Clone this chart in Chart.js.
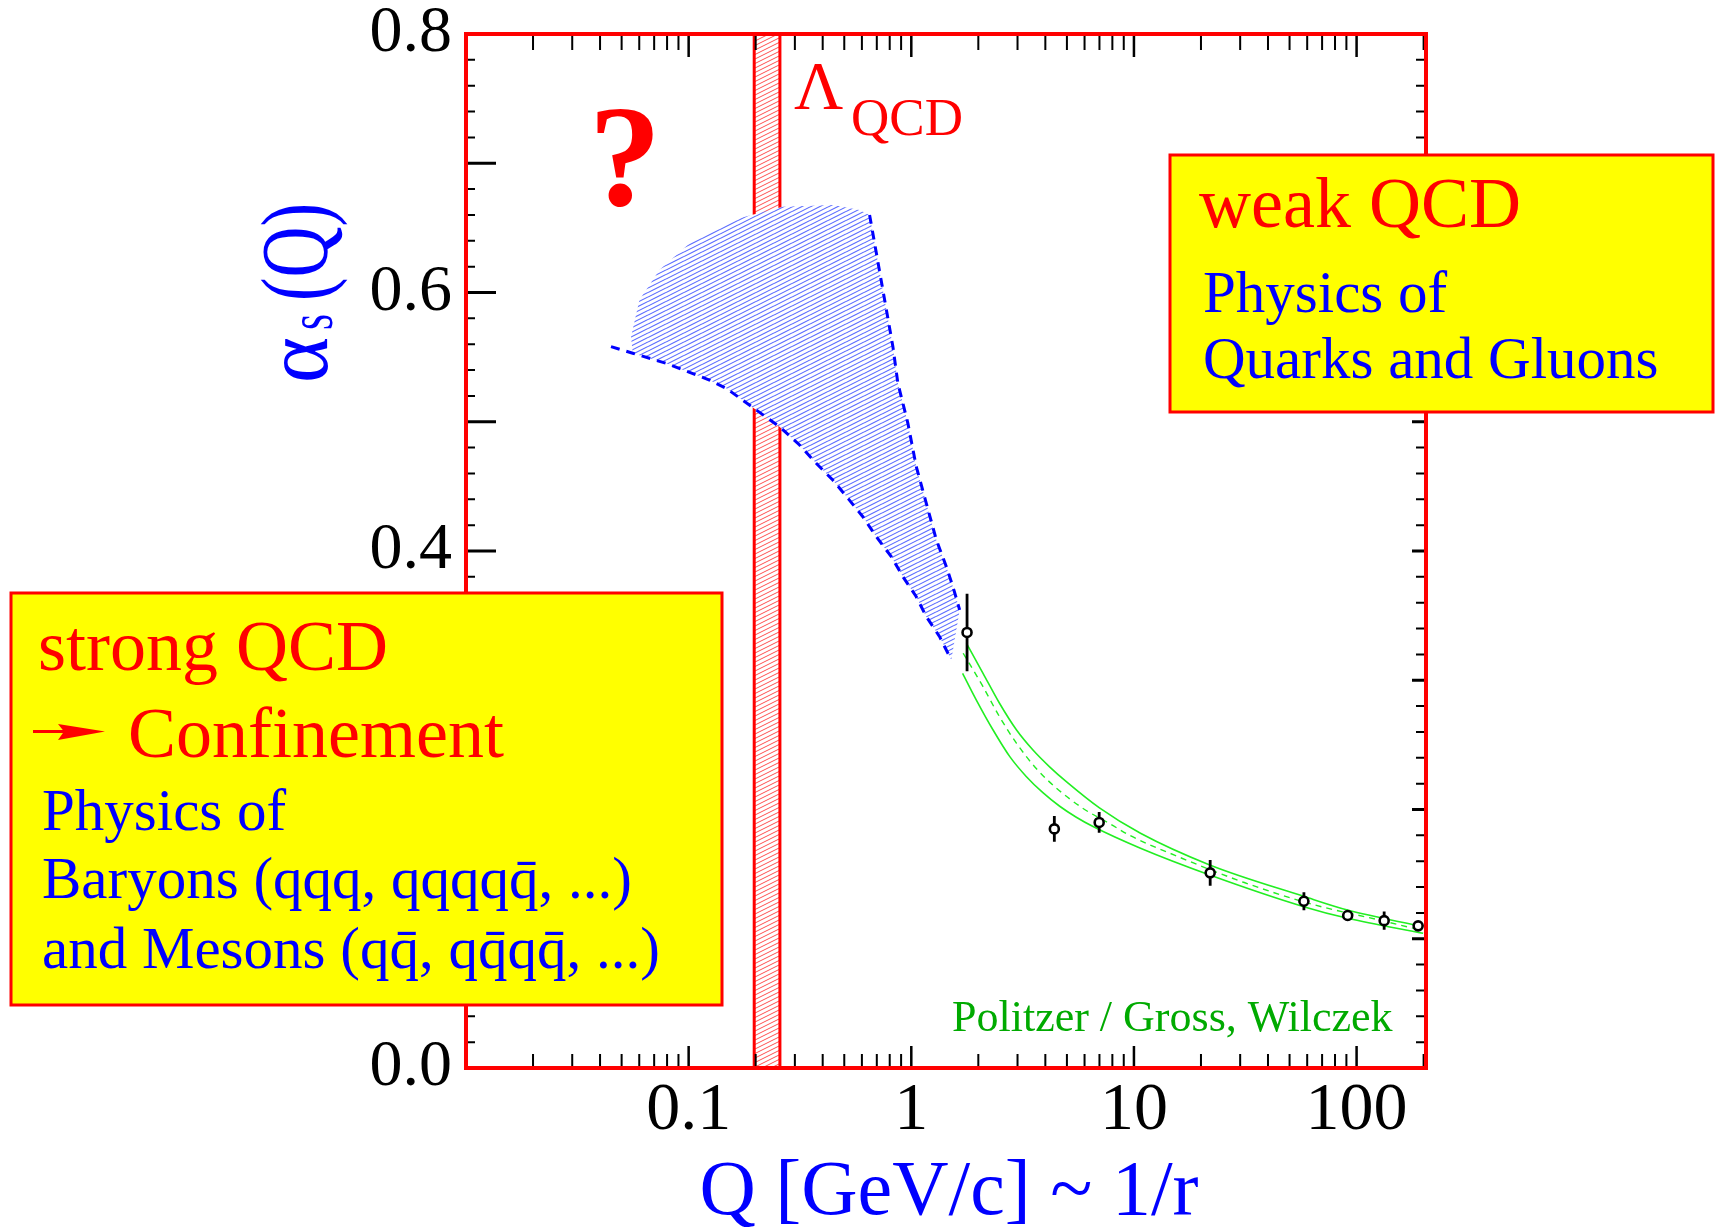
<!DOCTYPE html>
<html>
<head>
<meta charset="utf-8">
<script src="https://cdn.jsdelivr.net/npm/chart.js@4.4.0/dist/chart.umd.min.js"></script>
<style>
  body { margin: 0; background: #fff; }
  canvas { display: block; }
</style>
</head>
<body>
<canvas id="mycanvas" width="1716" height="1229"></canvas>
<script>
// measurements of alpha_s(Q), open circles with error bars
var pointQ     = [1.78, 4.39, 6.98, 22.0, 58.0, 91.2, 133, 189];
var pointAlpha = [0.337, 0.185, 0.190, 0.151, 0.129, 0.118, 0.114, 0.110];
var pointErr   = [0.030, 0.010, 0.008, 0.010, 0.007, 0.002, 0.007, 0.003];

// green QCD running band (upper, lower, central dashed)
var upperQ = [1.77, 2.10, 2.49, 2.97, 3.52, 4.18, 4.97, 7.0, 10.7, 21.9, 57.9, 91.1, 199];
var upperAlpha = [0.3286, 0.3054, 0.2822, 0.2615, 0.2460, 0.2330, 0.2215, 0.2012, 0.1816, 0.1571, 0.1328, 0.1222, 0.1093];
var lowerQ = [1.70, 1.96, 2.33, 2.77, 3.29, 3.90, 4.64, 5.51, 6.55, 10.7, 21.9, 57.9, 91.1, 199];
var lowerAlpha = [0.3054, 0.2847, 0.2615, 0.2409, 0.2254, 0.2130, 0.2025, 0.1940, 0.1868, 0.1700, 0.1493, 0.1248, 0.1158, 0.1042];
var centreQ = [1.71, 2.10, 2.49, 2.97, 3.65, 4.49, 5.91, 7.79, 9.57, 15.3, 31.3, 63.8, 130, 193];
var centreAlpha = [0.3209, 0.2950, 0.2718, 0.2512, 0.2315, 0.2165, 0.2008, 0.1890, 0.1800, 0.1645, 0.1435, 0.1265, 0.1140, 0.1068];

// blue hatched extrapolation region
var hatchTopQ = [0.0551, 0.0601, 0.0739, 0.1008, 0.1578, 0.2648, 0.4442, 0.5856, 0.6497];
var hatchTop  = [0.5658, 0.5942, 0.6174, 0.638, 0.6561, 0.6664, 0.6677, 0.6638, 0.660];
var rightEdgeQ = [0.6497, 0.7454, 0.8267, 0.8706, 0.9654, 1.053, 1.168, 1.296, 1.437, 1.538, 1.649];
var rightEdge  = [0.660, 0.6019, 0.5581, 0.5297, 0.4988, 0.4652, 0.4369, 0.4085, 0.3879, 0.3724, 0.3544];
var lowerEdgeQ = [0.0448, 0.0561, 0.0792, 0.124, 0.1474, 0.2558, 0.3148, 0.374, 0.444, 0.519, 0.606, 0.696, 0.813, 0.917, 1.053, 1.168, 1.340, 1.513];
var lowerEdge  = [0.5581, 0.553, 0.5452, 0.5323, 0.5259, 0.4962, 0.482, 0.4679, 0.4549, 0.4408, 0.4265, 0.4111, 0.3956, 0.3801, 0.3646, 0.3492, 0.3337, 0.3157];

// Lambda_QCD band
var lambdaQ = [0.197, 0.257];

// axes
var xTicks = [0.1, 1, 10, 100];
var yTicks = [0.0, 0.4, 0.6, 0.8];

var FONT = '"Liberation Serif", "Times New Roman", serif';
Chart.defaults.font.family = FONT;

function pts(xs, ys) {
    var out = [];
    for (var i = 0; i < xs.length; i++) out.push({x: xs[i], y: ys[i]});
    return out;
}

function makeHatch(color, bg, w) {
    var p = document.createElement('canvas');
    p.width = 18; p.height = 9;
    var g = p.getContext('2d');
    g.fillStyle = bg;
    g.fillRect(0, 0, 18, 9);
    g.strokeStyle = color;
    g.lineWidth = w;
    for (var k = -2; k <= 3; k++) {
        g.beginPath();
        g.moveTo(0, 9 + k * 4.5);
        g.lineTo(18, k * 4.5);
        g.stroke();
    }
    return g.createPattern(p, 'repeat');
}

// closed outline of the hatched region
var hatchShape = pts(hatchTopQ, hatchTop)
    .concat(pts(rightEdgeQ, rightEdge).slice(1))
    .concat(pts(lowerEdgeQ, lowerEdge).reverse().slice(0, lowerEdgeQ.length - 1));
hatchShape.push({x: hatchTopQ[0], y: hatchTop[0]});

var lambdaShape = [
    {x: lambdaQ[0], y: 0}, {x: lambdaQ[0], y: 0.8},
    {x: lambdaQ[1], y: 0.8}, {x: lambdaQ[1], y: 0}, {x: lambdaQ[0], y: 0}
];

var errorBars = [];
for (var i = 0; i < pointQ.length; i++) {
    errorBars.push({x: pointQ[i], y: pointAlpha[i] - pointErr[i]});
    errorBars.push({x: pointQ[i], y: pointAlpha[i] + pointErr[i]});
    errorBars.push({x: pointQ[i], y: null});
}

function text(c, s, x, y, size, color, weight) {
    c.font = (weight || '') + ' ' + size + 'px ' + FONT;
    c.fillStyle = color;
    c.fillText(s, x, y);
}

var decorations = {
    id: 'decorations',
    afterDatasetsDraw: function(chart) {
        var c = chart.ctx, a = chart.chartArea;
        var xs = chart.scales.x, ys = chart.scales.y;
        c.save();
        c.strokeStyle = '#000';
        // y ticks, left and right
        for (var i = 0; i <= 40; i++) {
            var y = ys.getPixelForValue(i * 0.02);
            var major = i % 5 === 0;
            c.lineWidth = major ? 3 : 2;
            c.beginPath();
            c.moveTo(a.left, y); c.lineTo(a.left + (major ? 30 : 9), y);
            c.moveTo(a.right, y); c.lineTo(a.right - (major ? 14 : 10), y);
            c.stroke();
        }
        // log x ticks, bottom and top
        for (var e = -2; e <= 2; e++) {
            for (var k = 1; k <= 9; k++) {
                var q = k * Math.pow(10, e);
                if (q <= xs.min * 1.01 || q >= xs.max) continue;
                var x = xs.getPixelForValue(q);
                var maj = k === 1;
                c.lineWidth = maj ? 2.5 : 2;
                c.beginPath();
                c.moveTo(x, a.bottom); c.lineTo(x, a.bottom - (maj ? 22 : 14));
                c.moveTo(x, a.top); c.lineTo(x, a.top + (maj ? 23 : 16));
                c.stroke();
            }
        }
        // red frame
        c.strokeStyle = '#ff0000';
        c.lineWidth = 4;
        c.strokeRect(a.left, a.top, a.right - a.left, a.bottom - a.top);
        c.restore();
    },
    afterDraw: function(chart) {
        var c = chart.ctx;
        c.save();
        c.textAlign = 'left';
        c.textBaseline = 'alphabetic';

        // question mark and Lambda_QCD
        c.textAlign = 'center';
        text(c, '?', 625, 205, 145, '#ff0000', 'bold');
        c.textAlign = 'left';
        text(c, '\u039B', 794, 108, 68, '#ff0000');
        text(c, 'QCD', 851, 135, 53, '#ff0000');

        text(c, 'Politzer / Gross, Wilczek', 952, 1031, 44, '#00aa00');

        // x title
        c.textAlign = 'center';
        text(c, 'Q [GeV/c] ~ 1/r', 949, 1214, 78, '#0000ff');
        c.textAlign = 'left';

        // y title, rotated
        c.save();
        c.translate(327, 383);
        c.rotate(-Math.PI / 2);
        c.fillStyle = '#0000ff';
        c.font = '92px ' + FONT;
        c.fillText('\u03B1', 0, 0, 46);
        c.font = '64px ' + FONT;
        c.fillText('s', 53, 5, 16);
        c.font = '95px ' + FONT;
        c.fillText('(Q)', 82, 0, 98);
        c.restore();

        // right box
        c.fillStyle = '#ffff00';
        c.fillRect(1170, 155, 543, 257);
        c.strokeStyle = '#ff0000';
        c.lineWidth = 3;
        c.strokeRect(1170, 155, 543, 257);
        text(c, 'weak QCD', 1199, 227, 72, '#ff0000');
        text(c, 'Physics of', 1203, 312, 59, '#0000ff');
        text(c, 'Quarks and Gluons', 1203, 378, 59, '#0000ff');

        // left box
        c.fillStyle = '#ffff00';
        c.fillRect(11, 593, 711, 412);
        c.strokeRect(11, 593, 711, 412);
        text(c, 'strong QCD', 38, 670, 72, '#ff0000');
        c.fillStyle = '#ff0000';
        c.fillRect(33, 730, 32, 3);
        c.beginPath();
        c.moveTo(58, 724); c.lineTo(105, 731.5); c.lineTo(58, 740); c.lineTo(64, 731.5);
        c.closePath();
        c.fill();
        text(c, 'Confinement', 128, 757, 72, '#ff0000');
        text(c, 'Physics of', 42, 830, 59, '#0000ff');
        text(c, 'Baryons (qqq, qqqqq\u0304, ...)', 42, 898, 59, '#0000ff');
        text(c, 'and Mesons (qq\u0304, qq\u0304qq\u0304, ...)', 42, 968, 59, '#0000ff');
        c.restore();
    }
};

var blueHatch = makeHatch('rgba(60,80,255,0.85)', '#ffffff', 1.1);
var redHatch = makeHatch('rgba(255,60,60,0.9)', '#ffffff', 1);

var ctx = document.getElementById('mycanvas');
var chart = new Chart(ctx, {
    type: 'line',
    data: {
        datasets: [
            {
                label: 'points',
                data: pts(pointQ, pointAlpha),
                showLine: false,
                pointRadius: 4.5,
                pointBorderWidth: 2.6,
                pointBackgroundColor: '#ffffff',
                pointBorderColor: '#000000',
                order: 1
            },
            {
                label: 'errors',
                data: errorBars,
                borderColor: '#000000',
                borderWidth: 2.8,
                pointRadius: 0,
                spanGaps: false,
                order: 2
            },
            {
                label: 'upper',
                data: pts(upperQ, upperAlpha),
                borderColor: '#22ee22',
                borderWidth: 1.6,
                cubicInterpolationMode: 'monotone',
                order: 4
            },
            {
                label: 'lower',
                data: pts(lowerQ, lowerAlpha),
                borderColor: '#22ee22',
                borderWidth: 1.6,
                cubicInterpolationMode: 'monotone',
                order: 4
            },
            {
                label: 'centre',
                data: pts(centreQ, centreAlpha),
                borderColor: '#22ee22',
                borderWidth: 1.4,
                borderDash: [6, 5],
                cubicInterpolationMode: 'monotone',
                order: 4
            },
            {
                label: 'rightEdge',
                data: pts(rightEdgeQ, rightEdge),
                borderColor: '#0000ff',
                borderWidth: 3,
                borderDash: [9, 7],
                order: 6
            },
            {
                label: 'lowerEdge',
                data: pts(lowerEdgeQ, lowerEdge),
                borderColor: '#0000ff',
                borderWidth: 3,
                borderDash: [9, 7],
                order: 6
            },
            {
                label: 'hatch',
                data: hatchShape,
                borderWidth: 0,
                borderColor: 'rgba(0,0,0,0)',
                backgroundColor: blueHatch,
                fill: 'shape',
                order: 8
            },
            {
                label: 'lambda',
                data: lambdaShape,
                borderColor: '#ff0000',
                borderWidth: 3,
                backgroundColor: redHatch,
                fill: 'shape',
                clip: 6,
                order: 10
            }
        ]
    },
    options: {
        responsive: false,
        animation: false,
        devicePixelRatio: 1,
        events: [],
        layout: { padding: { top: 34, right: 290, bottom: 0, left: 0 } },
        plugins: {
            legend: { display: false },
            tooltip: { enabled: false }
        },
        elements: {
            point: { radius: 0 },
            line: { tension: 0 }
        },
        scales: {
            x: {
                type: 'logarithmic',
                min: 0.01,
                max: 205,
                grid: { display: false, drawTicks: false },
                border: { display: false },
                afterFit: function(s) {
                    s.height = 161;
                    s.paddingLeft = 0;
                    s.paddingRight = 0;
                },
                afterBuildTicks: function(s) {
                    s.ticks = xTicks.map(function(v) { return {value: v}; });
                },
                ticks: {
                    padding: 2,
                    color: '#000000',
                    autoSkip: false,
                    maxRotation: 0,
                    font: { size: 68 },
                    callback: function(v) { return String(v); }
                }
            },
            y: {
                type: 'linear',
                min: 0,
                max: 0.8,
                grid: { display: false, drawTicks: false },
                border: { display: false },
                afterFit: function(s) {
                    s.width = 466;
                    s.paddingTop = 0;
                    s.paddingBottom = 0;
                },
                afterBuildTicks: function(s) {
                    s.ticks = yTicks.map(function(v) { return {value: v}; });
                },
                ticks: {
                    padding: 14,
                    color: '#000000',
                    font: { size: 66 },
                    callback: function(v) { return v.toFixed(1); }
                }
            }
        }
    },
    plugins: [decorations]
});
</script>
</body>
</html>
